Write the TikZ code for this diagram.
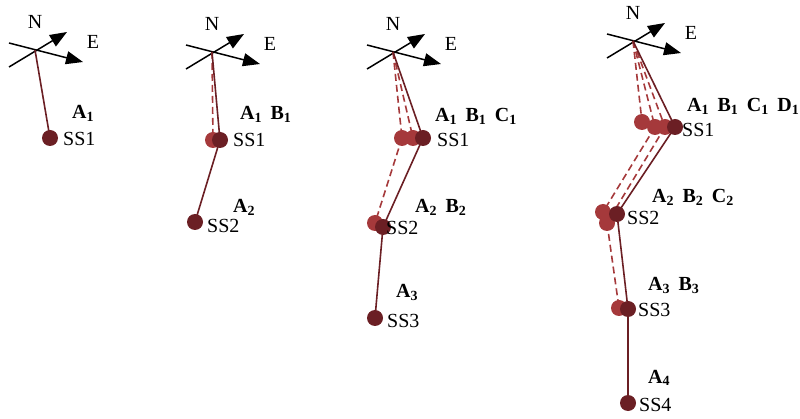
\documentclass[tikz,border=0pt]{standalone}
\usepackage{fontspec}
\setmainfont{Liberation Serif}
\usetikzlibrary{arrows.meta,calc}
\definecolor{darkdot}{HTML}{6B1F24}
\definecolor{lightdot}{HTML}{A5393B}
\tikzset{
  arr/.style={black, line width=1.5pt, -{Triangle[length=17pt,width=13pt]}},
  solidlink/.style={darkdot, line width=1.6pt},
  dashlink/.style={lightdot, line width=1.6pt, dash pattern=on 7pt off 4pt},
  ddot/.style={circle, fill=darkdot, minimum size=16pt, inner sep=0pt},
  ldot/.style={circle, fill=lightdot, minimum size=16pt, inner sep=0pt},
  lbl/.style={anchor=base west, inner sep=0pt, font=\fontsize{20}{24}\selectfont},
  dirlbl/.style={anchor=center, inner sep=0pt, font=\fontsize{20}{24}\selectfont},
}
\newcommand\subl[2]{\textbf{#1\raisebox{-0.3ex}{\fontsize{14}{14}\selectfont #2}}}
\newcommand\gp{\hspace{9pt}}
\newcommand\mycompass[2]{%
  \coordinate (#1) at #2;
  \coordinate (#1ew) at ($(#1)+(-26,-7)$);
  \coordinate (#1ee) at ($(#1)+(48,12)$);
  \coordinate (#1nw) at ($(#1)+(-26,17)$);
  \coordinate (#1ne) at ($(#1)+(32,-18)$);
  \draw[arr] (#1ew) -- (#1ee);
  \draw[arr] (#1nw) -- (#1ne);
  \node[dirlbl] (#1N) at ($(#1)+(0,-28)$) {N};
  \node[dirlbl] (#1E) at ($(#1)+(58,-8)$) {E};
}
\begin{document}
\begin{tikzpicture}[x=1pt,y=-1pt]
\useasboundingbox (0,0) rectangle (800,419);

% ---------- panel 1
\mycompass{ca}{(35,50)}
\coordinate (pa1) at (50,138);
\draw[solidlink] (ca) -- (pa1);
\node[ddot] (da1) at (pa1) {};
\node[lbl] (la1) at (72,119) {\subl{A}{1}};
\node[lbl] (sa1) at (63,146) {SS1};

% ---------- panel 2
\mycompass{cb}{(212,52)}
\coordinate (pb1l) at (213,140);
\coordinate (pb1d) at (220,140);
\coordinate (pb2) at (195,222);
\draw[dashlink] (cb) -- (pb1l);
\draw[solidlink] (cb) -- (pb1d);
\draw[solidlink] (pb1d) -- (pb2);
\node[ldot] (db1l) at (pb1l) {};
\node[ddot] (db1d) at (pb1d) {};
\node[ddot] (db2) at (pb2) {};
\node[lbl] (lb1) at (240,120) {\subl{A}{1}\gp\subl{B}{1}};
\node[lbl] (sb1) at (233,147) {SS1};
\node[lbl] (lb2) at (233,213) {\subl{A}{2}};
\node[lbl] (sb2) at (207,233) {SS2};

% ---------- panel 3
\mycompass{cc}{(393,52)}
\coordinate (pc1a) at (402,138);
\coordinate (pc1b) at (413,138);
\coordinate (pc1c) at (423,138);
\coordinate (pc2a) at (375,223);
\coordinate (pc2b) at (383,227);
\coordinate (pc3) at (375,318);
\draw[dashlink] (cc) -- (pc1a);
\draw[dashlink] (cc) -- (pc1b);
\draw[solidlink] (cc) -- (pc1c);
\draw[dashlink] (pc1a) -- (pc2a);
\draw[solidlink] (pc1c) -- (pc2b);
\draw[solidlink] (pc2b) -- (pc3);
\node[ldot] (dc1a) at (pc1a) {};
\node[ldot] (dc1b) at (pc1b) {};
\node[ddot] (dc1c) at (pc1c) {};
\node[ldot] (dc2a) at (pc2a) {};
\node[ddot] (dc2b) at (pc2b) {};
\node[ddot] (dc3) at (pc3) {};
\node[lbl] (lc1) at (435,122) {\subl{A}{1}\gp\subl{B}{1}\gp\subl{C}{1}};
\node[lbl] (sc1) at (437,147) {SS1};
\node[lbl] (lc2) at (415,213) {\subl{A}{2}\gp\subl{B}{2}};
\node[lbl] (sc2) at (386,235) {SS2};
\node[lbl] (lc3) at (396,298) {\subl{A}{3}};
\node[lbl] (sc3) at (387,327) {SS3};

% ---------- panel 4
\mycompass{cd}{(633,41)}
\coordinate (pd1a) at (642,122);
\coordinate (pd1b) at (655,127);
\coordinate (pd1c) at (665,127);
\coordinate (pd1d) at (675,127);
\coordinate (pd2a) at (603,212);
\coordinate (pd2b) at (607,223);
\coordinate (pd2c) at (617,214);
\coordinate (pd3a) at (619,308);
\coordinate (pd3b) at (628,309);
\coordinate (pd4) at (628,403);
\draw[dashlink] (cd) -- (pd1a);
\draw[dashlink] (cd) -- (pd1b);
\draw[dashlink] (cd) -- (pd1c);
\draw[solidlink] (cd) -- (pd1d);
\draw[dashlink] (pd1b) -- (pd2a);
\draw[dashlink] (pd1c) -- (pd2b);
\draw[solidlink] (pd1d) -- (pd2c);
\draw[dashlink] (pd2b) -- (pd3a);
\draw[solidlink] (pd2c) -- (pd3b);
\draw[solidlink] (pd3b) -- (pd4);
\node[ldot] (dd1a) at (pd1a) {};
\node[ldot] (dd1b) at (pd1b) {};
\node[ldot] (dd1c) at (pd1c) {};
\node[ddot] (dd1d) at (pd1d) {};
\node[ldot] (dd2b) at (pd2b) {};
\node[ldot] (dd2a) at (pd2a) {};
\node[ddot] (dd2c) at (pd2c) {};
\node[ldot] (dd3a) at (pd3a) {};
\node[ddot] (dd3b) at (pd3b) {};
\node[ddot] (dd4) at (pd4) {};
\node[lbl] (ld1) at (687,112) {\subl{A}{1}\gp\subl{B}{1}\gp\subl{C}{1}\gp\subl{D}{1}};
\node[lbl] (sd1) at (682,137) {SS1};
\node[lbl] (ld2) at (652,203) {\subl{A}{2}\gp\subl{B}{2}\gp\subl{C}{2}};
\node[lbl] (sd2) at (627,225) {SS2};
\node[lbl] (ld3) at (648,291) {\subl{A}{3}\gp\subl{B}{3}};
\node[lbl] (sd3) at (638,317) {SS3};
\node[lbl] (ld4) at (648,383) {\subl{A}{4}};
\node[lbl] (sd4) at (639,411) {SS4};
\end{tikzpicture}
\end{document}
